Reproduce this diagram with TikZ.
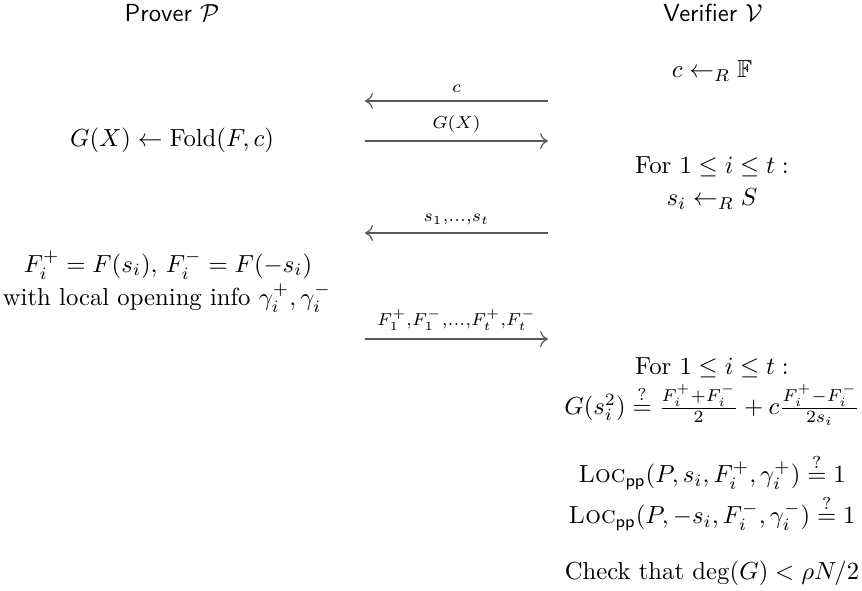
\documentclass[tikz,border=0pt]{standalone}
\usepackage{amsmath,amssymb}
\usetikzlibrary{arrows.meta}
\begin{document}
\begin{tikzpicture}[x=0.405pt,y=-0.405pt,
  txt/.style={inner sep=0pt,anchor=center,align=center},
  msg/.style={draw=black!65,line width=0.5pt,-{To[length=3.2pt,width=6.4pt]}},
  lbl/.style={inner sep=0pt,above=3pt}]
\useasboundingbox (0,0) rectangle (862,590);
% headers
\node[txt] (P) at (172,13) {\textsf{Prover} $\mathcal{P}$};
\node[txt] (V) at (713,13) {\textsf{Verifier} $\mathcal{V}$};
% verifier: challenge
\node[txt] (v1) at (712,71) {$c \leftarrow_R \mathbb{F}$};
% arrows endpoints
\coordinate (aL1) at (365,101); \coordinate (aR1) at (548,101);
\coordinate (aL2) at (365,141); \coordinate (aR2) at (548,141);
\coordinate (aL3) at (365,233); \coordinate (aR3) at (548,233);
\coordinate (aL4) at (365,339); \coordinate (aR4) at (548,339);
\draw[msg] (aR1) -- node[lbl] {$\scriptstyle c$} (aL1);
\node[txt] (p1) at (172,140) {$G(X) \leftarrow \mathrm{Fold}(F,c)$};
\draw[msg] (aL2) -- node[lbl] {$\scriptstyle G(X)$} (aR2);
\node[txt] (v2a) at (712,167) {For $1 \le i \le t:$};
\node[txt] (v2b) at (712,199) {$s_i \leftarrow_R S$};
\draw[msg] (aR3) -- node[lbl] {$\scriptstyle s_1,\ldots,s_t$} (aL3);
\node[txt] (p2a) at (168,265) {$F_i^+ = F(s_i),\, F_i^- = F(-s_i)$};
\node[txt] (p2b) at (167,298) {with local opening info $\gamma_i^+,\gamma_i^-$};
\draw[msg] (aL4) -- node[lbl] {$\scriptstyle F_1^+,F_1^-,\ldots,F_t^+,F_t^-$} (aR4);
\node[txt] (v3a) at (712,368) {For $1 \le i \le t:$};
\node[txt] (v3b) at (712,405) {$G(s_i^2) \overset{?}{=} \frac{F_i^+ + F_i^-}{2} + c\frac{F_i^+ - F_i^-}{2s_i}$};
\node[txt] (v4a) at (712,472) {$\textsc{Loc}_{\mathsf{pp}}(P, s_i, F_i^+, \gamma_i^+) \overset{?}{=} 1$};
\node[txt] (v4b) at (712,513) {$\textsc{Loc}_{\mathsf{pp}}(P, -s_i, F_i^-, \gamma_i^-) \overset{?}{=} 1$};
\node[txt] (v5) at (712,573) {Check that $\deg(G) < \rho N/2$};
\end{tikzpicture}
\end{document}
